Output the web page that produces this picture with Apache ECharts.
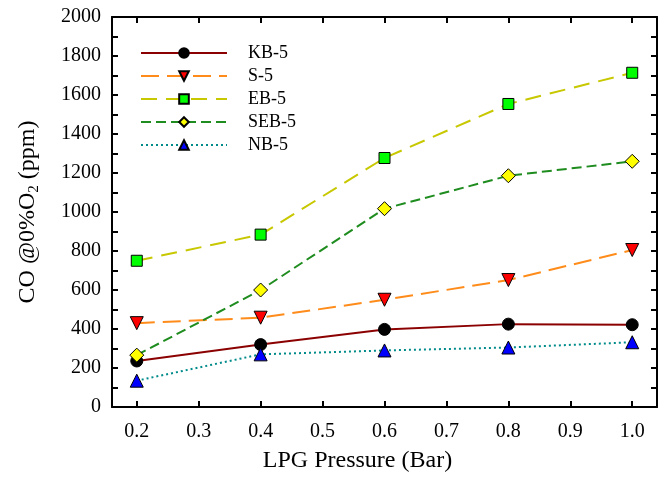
<!DOCTYPE html>
<html lang="en">
<head>
    <meta charset="UTF-8">
    <title>CO vs LPG Pressure</title>
    <style>
        html, body{
            margin: 0;
            padding: 0;
            background: #fff;
        }
        .dis{
            width: 666px;
            height: 485px;
        }
    </style>
    <script src="https://cdn.jsdelivr.net/npm/echarts@6/dist/echarts.min.js"></script>
</head>
<body>
<div class="dis"></div>
</body>
<script>
    // data
    var pressure = [0.2, 0.4, 0.6, 0.8, 1.0];
    var kb5 = [236, 320, 398, 425, 422];
    var s5 = [430, 458, 550, 651, 805];
    var eb5 = [750, 884, 1277, 1554, 1714];
    var seb5 = [266, 600, 1017, 1186, 1260];
    var nb5 = [135, 270, 290, 305, 332];
    var xTicks = [0.2, 0.3, 0.4, 0.5, 0.6, 0.7, 0.8, 0.9, 1.0];

    var font = "Liberation Serif";

    function pairs(ys) {
        var out = [];
        for (var i = 0; i < pressure.length; i++) {
            out.push([pressure[i], ys[i]]);
        }
        return out;
    }

    function line(name, ys, color, type, width, symbol, size, fill, rotate) {
        return {
            name: name,
            type: "line",
            data: pairs(ys),
            symbol: symbol,
            symbolSize: size,
            symbolRotate: rotate || 0,
            lineStyle: {color: color, width: width, type: type},
            itemStyle: {color: fill, borderColor: "#000", borderWidth: 1},
            emphasis: {disabled: true},
            z: 3
        };
    }

    var axisLine = {show: true, onZero: false, lineStyle: {color: "#000", width: 2}};
    var tickStyle = {color: "#000", width: 2};

    var my_dis = echarts.init(document.getElementsByClassName("dis")[0]);
    var option = {
        animation: false,
        textStyle: {fontFamily: font},
        grid: {left: 112, right: 9, top: 17, bottom: 78},
        legend: {
            orient: "vertical",
            left: 140,
            top: 44,
            padding: 0,
            itemWidth: 86,
            itemHeight: 12,
            itemGap: 5,
            textStyle: {fontFamily: font, fontSize: 18, lineHeight: 16, color: "#000", padding: [0, 0, 0, 16]},
            data: ["KB-5", "S-5", "EB-5", "SEB-5", "NB-5"]
        },
        xAxis: [{
            type: "value",
            min: 0.16,
            max: 1.04,
            name: "LPG Pressure (Bar)",
            nameLocation: "middle",
            nameGap: 42,
            nameTextStyle: {fontFamily: font, fontSize: 24, color: "#000", padding: [0, 54, 0, 0]},
            axisLine: axisLine,
            axisTick: {show: true, inside: true, length: 6, customValues: xTicks, lineStyle: tickStyle},
            axisLabel: {
                customValues: xTicks, margin: 15, fontFamily: font, fontSize: 20, color: "#000",
                formatter: function (v) { return v.toFixed(1); }
            },
            splitLine: {show: false}
        }, {
            type: "value",
            position: "top",
            min: 0.16,
            max: 1.04,
            axisLine: axisLine,
            axisTick: {show: true, inside: true, length: 6, customValues: xTicks, lineStyle: tickStyle},
            axisLabel: {show: false},
            splitLine: {show: false}
        }],
        yAxis: [{
            type: "value",
            min: 0,
            max: 2000,
            interval: 200,
            name: "{n|CO @0%O}{s|2}{n| (ppm)}",
            nameLocation: "middle",
            nameGap: 70,
            nameTextStyle: {
                fontFamily: font, fontSize: 24, color: "#000",
                rich: {
                    n: {fontFamily: font, fontSize: 24, color: "#000"},
                    s: {fontFamily: font, fontSize: 15, color: "#000", padding: [14, 0, 0, 0]}
                }
            },
            axisLine: axisLine,
            axisTick: {show: true, inside: true, length: 6, lineStyle: tickStyle},
            minorTick: {show: true, splitNumber: 2, length: 6, lineStyle: tickStyle},
            axisLabel: {
                margin: 11, fontFamily: font, fontSize: 20, color: "#000",
                formatter: function (v) { return String(v); }
            },
            splitLine: {show: false}
        }, {
            type: "value",
            position: "right",
            min: 0,
            max: 2000,
            interval: 200,
            axisLine: axisLine,
            axisTick: {show: true, inside: true, length: 6, lineStyle: tickStyle},
            minorTick: {show: true, splitNumber: 2, length: 6, lineStyle: tickStyle},
            axisLabel: {show: false},
            splitLine: {show: false}
        }],
        series: [
            line("KB-5", kb5, "#8b0000", "solid", 2, "circle", 12, "#000"),
            line("S-5", s5, "#ff8c1a", [18, 8], 2, "triangle", 13, "#ff0000", 180),
            line("EB-5", eb5, "#c8c800", [16, 9], 2, "rect", 11, "#00ff00"),
            line("SEB-5", seb5, "#1e8c1e", [10, 5], 2, "diamond", 14, "#ffff00"),
            line("NB-5", nb5, "#008b8b", [2, 3], 2, "triangle", 13, "#0000ff")
        ]
    };
    my_dis.setOption(option);
</script>
</html>
